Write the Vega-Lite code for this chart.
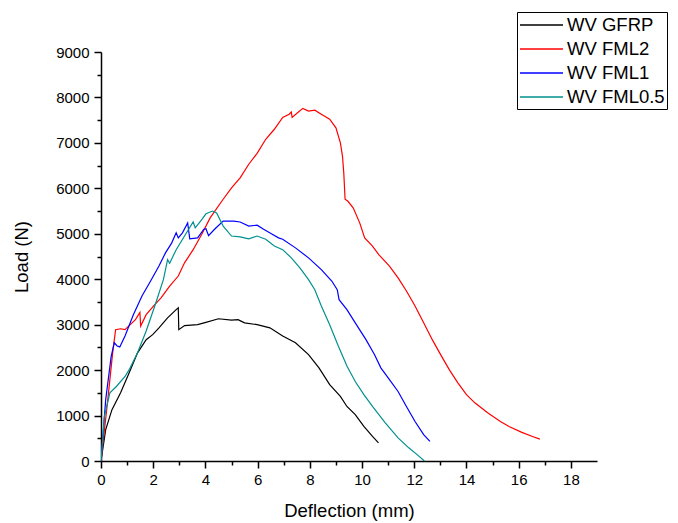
{
  "$schema": "https://vega.github.io/schema/vega-lite/v6.json",
  "width": 496,
  "height": 409,
  "autosize": {"type": "none"},
  "padding": {"left": 101, "top": 52, "right": 81, "bottom": 62},
  "background": "white",
  "config": {
    "view": {"stroke": null},
    "font": "Liberation Sans",
    "axis": {"grid": false, "domainColor": "black", "domainWidth": 1.5, "tickColor": "black", "tickWidth": 1.5, "labelColor": "black", "titleColor": "black", "labelFont": "Liberation Sans", "titleFont": "Liberation Sans", "labelFontSize": 15, "titleFontSize": 18.5, "titleFontWeight": "normal"}
  },
  "data": {"values": [
    {"s":"WV GFRP","x":0,"y":0},{"s":"WV GFRP","x":0.18,"y":690},{"s":"WV GFRP","x":0.42,"y":1130},{"s":"WV GFRP","x":0.75,"y":1500},{"s":"WV GFRP","x":1.08,"y":1940},{"s":"WV GFRP","x":1.4,"y":2380},{"s":"WV GFRP","x":1.73,"y":2670},{"s":"WV GFRP","x":1.98,"y":2780},{"s":"WV GFRP","x":2.22,"y":2930},{"s":"WV GFRP","x":2.55,"y":3150},{"s":"WV GFRP","x":2.88,"y":3330},{"s":"WV GFRP","x":2.96,"y":3370},{"s":"WV GFRP","x":2.98,"y":2890},{"s":"WV GFRP","x":3.2,"y":2980},{"s":"WV GFRP","x":3.7,"y":3000},{"s":"WV GFRP","x":4.02,"y":3050},{"s":"WV GFRP","x":4.5,"y":3130},{"s":"WV GFRP","x":5.0,"y":3100},{"s":"WV GFRP","x":5.25,"y":3110},{"s":"WV GFRP","x":5.5,"y":3040},{"s":"WV GFRP","x":5.98,"y":3000},{"s":"WV GFRP","x":6.47,"y":2930},{"s":"WV GFRP","x":6.96,"y":2750},{"s":"WV GFRP","x":7.45,"y":2600},{"s":"WV GFRP","x":7.95,"y":2340},{"s":"WV GFRP","x":8.35,"y":2050},{"s":"WV GFRP","x":8.76,"y":1680},{"s":"WV GFRP","x":9.17,"y":1420},{"s":"WV GFRP","x":9.42,"y":1200},{"s":"WV GFRP","x":9.74,"y":1020},{"s":"WV GFRP","x":10.07,"y":760},{"s":"WV GFRP","x":10.4,"y":540},{"s":"WV GFRP","x":10.63,"y":400},
    {"s":"WV FML2","x":0,"y":0},{"s":"WV FML2","x":0.26,"y":1350},{"s":"WV FML2","x":0.46,"y":2450},{"s":"WV FML2","x":0.56,"y":2890},{"s":"WV FML2","x":0.75,"y":2910},{"s":"WV FML2","x":0.92,"y":2890},{"s":"WV FML2","x":1.08,"y":2980},{"s":"WV FML2","x":1.32,"y":3110},{"s":"WV FML2","x":1.49,"y":3270},{"s":"WV FML2","x":1.52,"y":2970},{"s":"WV FML2","x":1.73,"y":3220},{"s":"WV FML2","x":2.06,"y":3440},{"s":"WV FML2","x":2.3,"y":3590},{"s":"WV FML2","x":2.63,"y":3850},{"s":"WV FML2","x":2.96,"y":4070},{"s":"WV FML2","x":3.2,"y":4360},{"s":"WV FML2","x":3.53,"y":4650},{"s":"WV FML2","x":3.86,"y":4990},{"s":"WV FML2","x":4.18,"y":5350},{"s":"WV FML2","x":4.68,"y":5760},{"s":"WV FML2","x":5.0,"y":6010},{"s":"WV FML2","x":5.33,"y":6230},{"s":"WV FML2","x":5.66,"y":6530},{"s":"WV FML2","x":5.98,"y":6770},{"s":"WV FML2","x":6.31,"y":7080},{"s":"WV FML2","x":6.64,"y":7300},{"s":"WV FML2","x":6.96,"y":7560},{"s":"WV FML2","x":7.21,"y":7630},{"s":"WV FML2","x":7.29,"y":7680},{"s":"WV FML2","x":7.32,"y":7560},{"s":"WV FML2","x":7.54,"y":7670},{"s":"WV FML2","x":7.73,"y":7760},{"s":"WV FML2","x":7.95,"y":7700},{"s":"WV FML2","x":8.19,"y":7720},{"s":"WV FML2","x":8.44,"y":7630},{"s":"WV FML2","x":8.76,"y":7520},{"s":"WV FML2","x":9.0,"y":7330},{"s":"WV FML2","x":9.17,"y":7000},{"s":"WV FML2","x":9.25,"y":6710},{"s":"WV FML2","x":9.3,"y":6340},{"s":"WV FML2","x":9.35,"y":5760},{"s":"WV FML2","x":9.45,"y":5720},{"s":"WV FML2","x":9.66,"y":5570},{"s":"WV FML2","x":9.91,"y":5240},{"s":"WV FML2","x":10.1,"y":4910},{"s":"WV FML2","x":10.4,"y":4730},{"s":"WV FML2","x":10.64,"y":4540},{"s":"WV FML2","x":11.05,"y":4290},{"s":"WV FML2","x":11.38,"y":4030},{"s":"WV FML2","x":11.7,"y":3740},{"s":"WV FML2","x":12.03,"y":3410},{"s":"WV FML2","x":12.36,"y":3040},{"s":"WV FML2","x":12.69,"y":2670},{"s":"WV FML2","x":13.01,"y":2340},{"s":"WV FML2","x":13.34,"y":2010},{"s":"WV FML2","x":13.67,"y":1720},{"s":"WV FML2","x":14.0,"y":1460},{"s":"WV FML2","x":14.32,"y":1280},{"s":"WV FML2","x":14.81,"y":1060},{"s":"WV FML2","x":15.3,"y":870},{"s":"WV FML2","x":15.63,"y":760},{"s":"WV FML2","x":16.12,"y":630},{"s":"WV FML2","x":16.53,"y":540},{"s":"WV FML2","x":16.81,"y":480},
    {"s":"WV FML1","x":0,"y":0},{"s":"WV FML1","x":0.18,"y":1350},{"s":"WV FML1","x":0.39,"y":2300},{"s":"WV FML1","x":0.51,"y":2600},{"s":"WV FML1","x":0.62,"y":2530},{"s":"WV FML1","x":0.72,"y":2510},{"s":"WV FML1","x":0.92,"y":2750},{"s":"WV FML1","x":1.24,"y":3220},{"s":"WV FML1","x":1.57,"y":3630},{"s":"WV FML1","x":1.9,"y":3960},{"s":"WV FML1","x":2.22,"y":4290},{"s":"WV FML1","x":2.47,"y":4580},{"s":"WV FML1","x":2.71,"y":4800},{"s":"WV FML1","x":2.88,"y":5020},{"s":"WV FML1","x":2.96,"y":4910},{"s":"WV FML1","x":3.12,"y":5020},{"s":"WV FML1","x":3.32,"y":5240},{"s":"WV FML1","x":3.4,"y":4890},{"s":"WV FML1","x":3.7,"y":4910},{"s":"WV FML1","x":3.94,"y":5100},{"s":"WV FML1","x":4.02,"y":5110},{"s":"WV FML1","x":4.12,"y":4960},{"s":"WV FML1","x":4.35,"y":5100},{"s":"WV FML1","x":4.68,"y":5280},{"s":"WV FML1","x":5.08,"y":5280},{"s":"WV FML1","x":5.33,"y":5260},{"s":"WV FML1","x":5.66,"y":5170},{"s":"WV FML1","x":5.98,"y":5190},{"s":"WV FML1","x":6.23,"y":5100},{"s":"WV FML1","x":6.56,"y":4990},{"s":"WV FML1","x":6.8,"y":4910},{"s":"WV FML1","x":6.96,"y":4880},{"s":"WV FML1","x":7.45,"y":4690},{"s":"WV FML1","x":7.95,"y":4470},{"s":"WV FML1","x":8.44,"y":4210},{"s":"WV FML1","x":8.84,"y":3960},{"s":"WV FML1","x":9.05,"y":3770},{"s":"WV FML1","x":9.12,"y":3550},{"s":"WV FML1","x":9.42,"y":3330},{"s":"WV FML1","x":9.74,"y":3040},{"s":"WV FML1","x":10.15,"y":2670},{"s":"WV FML1","x":10.48,"y":2340},{"s":"WV FML1","x":10.72,"y":2050},{"s":"WV FML1","x":11.05,"y":1790},{"s":"WV FML1","x":11.38,"y":1530},{"s":"WV FML1","x":11.7,"y":1200},{"s":"WV FML1","x":12.03,"y":870},{"s":"WV FML1","x":12.36,"y":580},{"s":"WV FML1","x":12.6,"y":430},
    {"s":"WV FML0.5","x":0,"y":0},{"s":"WV FML0.5","x":0.13,"y":980},{"s":"WV FML0.5","x":0.34,"y":1500},{"s":"WV FML0.5","x":0.59,"y":1640},{"s":"WV FML0.5","x":0.92,"y":1860},{"s":"WV FML0.5","x":1.08,"y":2010},{"s":"WV FML0.5","x":1.4,"y":2380},{"s":"WV FML0.5","x":1.73,"y":2860},{"s":"WV FML0.5","x":2.06,"y":3410},{"s":"WV FML0.5","x":2.39,"y":3990},{"s":"WV FML0.5","x":2.55,"y":4430},{"s":"WV FML0.5","x":2.63,"y":4350},{"s":"WV FML0.5","x":2.88,"y":4650},{"s":"WV FML0.5","x":3.2,"y":4950},{"s":"WV FML0.5","x":3.53,"y":5260},{"s":"WV FML0.5","x":3.61,"y":5130},{"s":"WV FML0.5","x":3.86,"y":5310},{"s":"WV FML0.5","x":4.02,"y":5440},{"s":"WV FML0.5","x":4.27,"y":5500},{"s":"WV FML0.5","x":4.43,"y":5460},{"s":"WV FML0.5","x":4.68,"y":5170},{"s":"WV FML0.5","x":5.0,"y":4950},{"s":"WV FML0.5","x":5.33,"y":4930},{"s":"WV FML0.5","x":5.66,"y":4890},{"s":"WV FML0.5","x":5.98,"y":4950},{"s":"WV FML0.5","x":6.31,"y":4880},{"s":"WV FML0.5","x":6.64,"y":4730},{"s":"WV FML0.5","x":6.96,"y":4650},{"s":"WV FML0.5","x":7.29,"y":4470},{"s":"WV FML0.5","x":7.62,"y":4250},{"s":"WV FML0.5","x":7.95,"y":3990},{"s":"WV FML0.5","x":8.19,"y":3770},{"s":"WV FML0.5","x":8.44,"y":3410},{"s":"WV FML0.5","x":8.76,"y":3000},{"s":"WV FML0.5","x":9.09,"y":2530},{"s":"WV FML0.5","x":9.42,"y":2090},{"s":"WV FML0.5","x":9.74,"y":1750},{"s":"WV FML0.5","x":10.07,"y":1460},{"s":"WV FML0.5","x":10.4,"y":1200},{"s":"WV FML0.5","x":10.89,"y":840},{"s":"WV FML0.5","x":11.38,"y":510},{"s":"WV FML0.5","x":11.79,"y":290},{"s":"WV FML0.5","x":12.11,"y":140},{"s":"WV FML0.5","x":12.39,"y":0}
  ]},
  "layer": [
    {
      "mark": {"type": "line", "strokeWidth": 1.2, "clip": true},
      "encoding": {
        "x": {"field": "x", "type": "quantitative", "scale": {"domain": [0, 19], "nice": false, "zero": false},
          "axis": {"title": "Deflection (mm)", "orient": "bottom", "values": [0,2,4,6,8,10,12,14,16,18], "tickSize": 7, "labelPadding": 4, "titlePadding": 14, "labelFlush": false}},
        "y": {"field": "y", "type": "quantitative", "scale": {"domain": [0, 9000], "nice": false},
          "axis": {"title": "Load (N)", "orient": "left", "values": [0,1000,2000,3000,4000,5000,6000,7000,8000,9000], "format": "d", "tickSize": 7, "labelPadding": 5, "titlePadding": 24, "labelFlush": false}},
        "color": {"field": "s", "type": "nominal",
          "scale": {"domain": ["WV GFRP", "WV FML2", "WV FML1", "WV FML0.5"], "range": ["#000000", "#ff0000", "#0000ff", "#009090"]},
          "legend": {"title": null, "orient": "none", "legendX": 416, "legendY": -40, "symbolType": "M-1,0H3.3", "symbolSize": 400, "symbolStrokeWidth": 1.3, "labelFontSize": 18.5, "labelFont": "Liberation Sans", "labelColor": "black", "labelOffset": 26, "rowPadding": 3, "padding": 2, "strokeColor": "black", "fillColor": "white", "labelLimit": 200}}
      }
    },
    {
      "mark": {"type": "line", "opacity": 0},
      "encoding": {
        "x": {"field": "x", "type": "quantitative", "scale": {"domain": [0, 19], "nice": false, "zero": false},
          "axis": {"title": null, "orient": "bottom", "values": [1,3,5,7,9,11,13,15,17], "labels": false, "domain": false, "tickSize": 4}},
        "y": {"field": "y", "type": "quantitative", "scale": {"domain": [0, 9000], "nice": false},
          "axis": {"title": null, "orient": "left", "values": [500,1500,2500,3500,4500,5500,6500,7500,8500], "labels": false, "domain": false, "tickSize": 4}},
        "detail": {"field": "s", "type": "nominal"}
      }
    }
  ],
  "resolve": {"axis": {"x": "independent", "y": "independent"}}
}
